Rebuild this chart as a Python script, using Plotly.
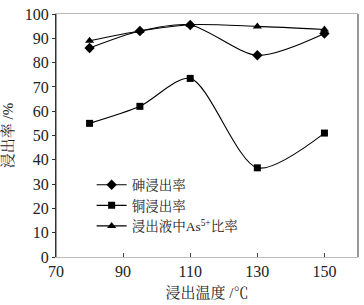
import plotly.graph_objects as go

temps = [80, 95, 110, 130, 150]
arsenic = [86, 93, 95.5, 83, 92]
copper = [55, 62, 73.5, 36.7, 51]
as5_ratio = [89, 93, 95.6, 94.9, 93.6]
names = ["砷浸出率", "铜浸出率", "浸出液中As<sup>5+</sup>比率"]
xticks = [70, 90, 110, 130, 150]
yticks = [0, 10, 20, 30, 40, 50, 60, 70, 80, 90, 100]

FONT = "'Liberation Serif', 'Times New Roman', 'Noto Serif CJK SC', 'Noto Sans CJK SC', serif"

fig = go.Figure()
for vals, name, sym, sz in [(arsenic, names[0], "diamond", 8), (copper, names[1], "square", 7), (as5_ratio, names[2], "triangle-up", 8)]:
    fig.add_trace(go.Scatter(
        x=temps, y=vals, name=name, mode="lines+markers",
        line=dict(color="black", width=1.1, shape="spline", smoothing=0.8),
        marker=dict(symbol=sym, size=sz, color="black"),
    ))

fig.update_layout(
    width=364, height=305,
    margin=dict(l=52, r=6, t=7, b=45),
    paper_bgcolor="white", plot_bgcolor="white",
    font=dict(family=FONT, size=16, color="#222"),
    showlegend=True,
    legend=dict(x=0.118, y=0.36, xanchor="left", yanchor="top",
                bgcolor="rgba(0,0,0,0)", font=dict(size=13.5, family=FONT),
                itemwidth=30, tracegroupgap=0),
    xaxis=dict(range=[70, 160], tickvals=xticks, ticks="inside", ticklen=4,
               showgrid=False, zeroline=False, showline=True, linecolor="#bbb",
               mirror=True, tickcolor="#444", ticklabeloverflow="allow",
               title=dict(text="浸出温度 /℃", font=dict(size=15), standoff=8)),
    yaxis=dict(range=[0, 100], tickvals=yticks, ticks="outside", ticklen=3,
               showgrid=False, zeroline=False, showline=True, linecolor="#333",
               tickcolor="#333", ticklabeloverflow="allow",
               title=dict(text="浸出率 /%", font=dict(size=15), standoff=8)),
)
fig.add_shape(type="line", xref="paper", yref="paper", x0=1, x1=1, y0=0, y1=1,
              line=dict(color="#999", width=2))
fig.add_shape(type="line", xref="paper", yref="paper", x0=0, x1=0, y0=0, y1=1,
              line=dict(color="#333", width=1))

fig.write_html("out.html", config={"displayModeBar": False},
               post_script="document.body.style.margin='0px';")
